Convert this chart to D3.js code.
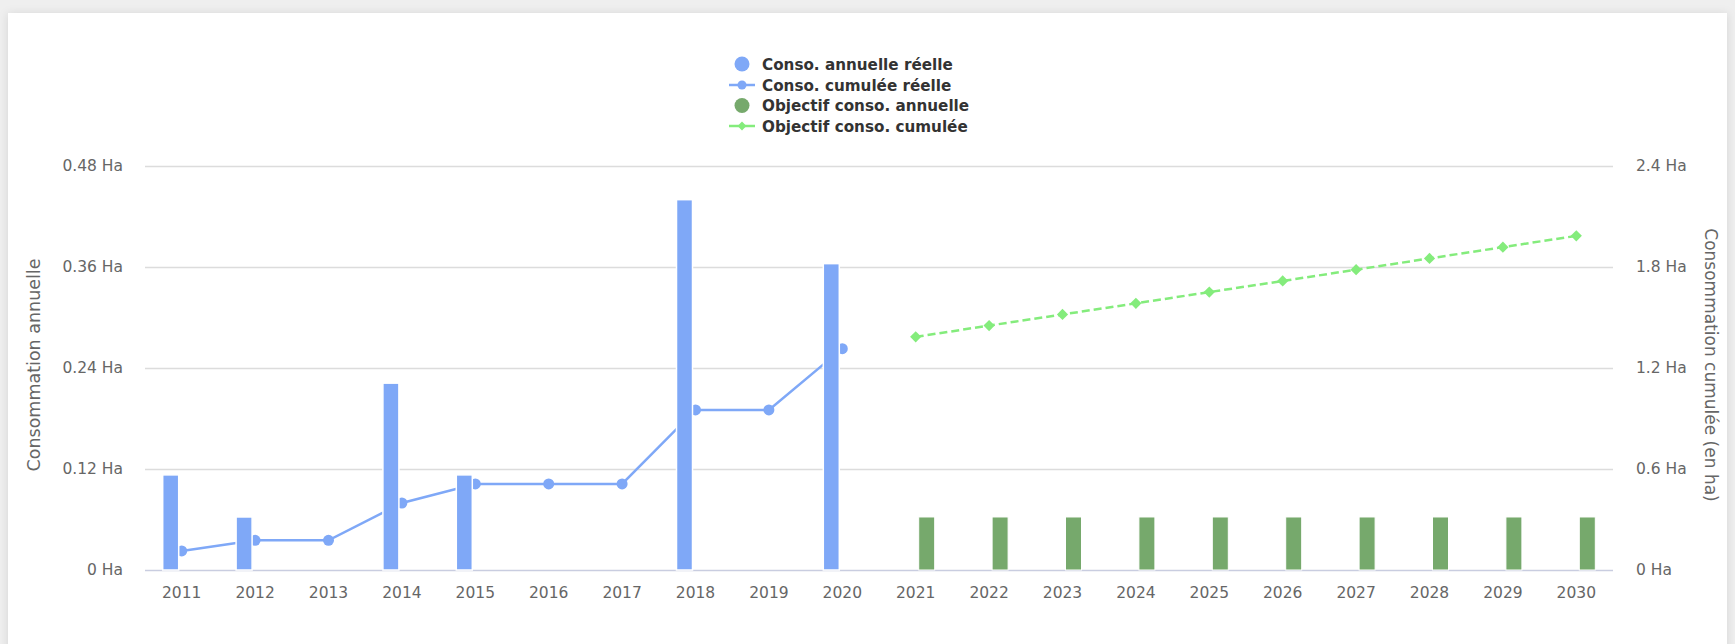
<!DOCTYPE html>
<html>
<head>
<meta charset="utf-8">
<script src="https://cdn.jsdelivr.net/npm/d3@7"></script>
<style>
  html, body { margin: 0; padding: 0; background: #efefef; }
  svg { display: block; }
  text { font-family: "DejaVu Sans", Verdana, sans-serif; }
</style>
</head>
<body>
<svg id="chart" width="1735" height="644"></svg>
<script>
// ---- data ----
const years = ["2011","2012","2013","2014","2015","2016","2017","2018","2019","2020",
               "2021","2022","2023","2024","2025","2026","2027","2028","2029","2030"];
const realYears = ["2011","2012","2013","2014","2015","2016","2017","2018","2019","2020"];
const objYears = ["2021","2022","2023","2024","2025","2026","2027","2028","2029","2030"];
const annualReal = [0.113, 0.063, 0, 0.222, 0.113, 0, 0, 0.44, 0, 0.364];
const cumulReal = [0.113, 0.176, 0.176, 0.398, 0.511, 0.511, 0.511, 0.951, 0.951, 1.315];
const annualObj = [0.063, 0.063, 0.063, 0.063, 0.063, 0.063, 0.063, 0.063, 0.063, 0.063];
const cumulObj = [1.385, 1.452, 1.518, 1.584, 1.651, 1.717, 1.784, 1.851, 1.918, 1.985];
const leftTicks = [0, 0.12, 0.24, 0.36, 0.48];
const rightTicks = [0, 0.6, 1.2, 1.8, 2.4];
const legendLabels = ["Conso. annuelle réelle", "Conso. cumulée réelle", "Objectif conso. annuelle", "Objectif conso. cumulée"];

// ---- styles ----
const C_BLUE = "#7fa8f7", C_GREEN_BAR = "#76a96c", C_GREEN_LINE = "#84ec7c";
const svg = d3.select("#chart");

// card with shadow
const defs = svg.append("defs");
const f = defs.append("filter").attr("id", "sh").attr("x", "-5%").attr("y", "-5%").attr("width", "110%").attr("height", "110%");
f.append("feDropShadow").attr("dx", 0).attr("dy", 1).attr("stdDeviation", 5).attr("flood-color", "#000").attr("flood-opacity", 0.12);
svg.append("rect").attr("x", 8).attr("y", 13).attr("width", 1719).attr("height", 640)
  .attr("fill", "#fff").attr("filter", "url(#sh)");

const L = 145, R = 1613, T = 166, B = 570;
const x = d3.scaleBand().domain(years).range([L, R]).padding(0);
const sub = d3.scaleBand().domain(["real", "obj"]).range([-22, 22]);
const yL = d3.scaleLinear().domain([0, 0.48]).range([B, T]);
const yR = d3.scaleLinear().domain([0, 2.4]).range([B, T]);
const cx = d => x(d) + x.bandwidth() / 2;
const barW = 16;

// grid
const g = svg.append("g");
g.selectAll("line.grid").data(leftTicks.slice(1)).enter().append("line")
  .attr("x1", L).attr("x2", R).attr("y1", d => Math.round(yL(d)) + 0.5).attr("y2", d => Math.round(yL(d)) + 0.5)
  .attr("stroke", "#dcdcdc").attr("stroke-width", 1.5);
g.append("line").attr("x1", L).attr("x2", R).attr("y1", B + 0.5).attr("y2", B + 0.5)
  .attr("stroke", "#c9cde0").attr("stroke-width", 1.5);

// axes labels via d3 axes
const axL = d3.axisLeft(yL).tickValues(leftTicks).tickSize(0).tickPadding(22)
  .tickFormat(d => d3.format("~g")(d) + " Ha");
const axR = d3.axisRight(yR).tickValues(rightTicks).tickSize(0).tickPadding(23)
  .tickFormat(d => d3.format("~g")(d) + " Ha");
const axB = d3.axisBottom(x).tickSize(0).tickPadding(17);

function styleAxis(sel) {
  sel.select(".domain").remove();
  sel.selectAll("text").attr("fill", "#666").style("font-size", "15.5px")
    .style("font-family", "'DejaVu Sans', Verdana, sans-serif");
}
svg.append("g").attr("transform", `translate(${L},0)`).call(axL).call(styleAxis);
svg.append("g").attr("transform", `translate(${R},0)`).call(axR).call(styleAxis);
svg.append("g").attr("transform", `translate(0,${B})`).call(axB).call(styleAxis);

// axis titles
svg.append("text").attr("transform", `translate(40,${(T + B) / 2 - 3}) rotate(-90)`)
  .attr("text-anchor", "middle").attr("fill", "#666").style("font-size", "17.5px")
  .text("Consommation annuelle");
svg.append("text").attr("transform", `translate(1705,${(T + B) / 2 - 3}) rotate(90)`)
  .attr("text-anchor", "middle").attr("fill", "#666").style("font-size", "17px")
  .text("Consommation cumulée (en ha)");

// cumulative real line (below bars)
const realCum = realYears.map((d, i) => ({ year: d, v: cumulReal[i] }));
svg.append("path").datum(realCum)
  .attr("d", d3.line().x(d => cx(d.year)).y(d => yR(d.v)))
  .attr("fill", "none").attr("stroke", C_BLUE).attr("stroke-width", 2.5);
svg.selectAll("circle.cr").data(realCum).enter().append("circle")
  .attr("cx", d => cx(d.year)).attr("cy", d => yR(d.v)).attr("r", 5.5).attr("fill", C_BLUE);

// bars
const realBars = realYears.map((d, i) => ({ year: d, v: annualReal[i] })).filter(d => d.v > 0);
svg.selectAll("rect.br").data(realBars).enter().append("rect")
  .attr("x", d => cx(d.year) + sub("real") + (sub.bandwidth() - barW) / 2)
  .attr("width", barW).attr("y", d => yL(d.v)).attr("height", d => B - yL(d.v))
  .attr("fill", C_BLUE).attr("stroke", "#fff").attr("stroke-width", 1.5);
const objBars = objYears.map((d, i) => ({ year: d, v: annualObj[i] }));
svg.selectAll("rect.bo").data(objBars).enter().append("rect")
  .attr("x", d => cx(d.year) + sub("obj") + (sub.bandwidth() - barW) / 2)
  .attr("width", barW).attr("y", d => yL(d.v)).attr("height", d => B - yL(d.v))
  .attr("fill", C_GREEN_BAR).attr("stroke", "#fff").attr("stroke-width", 1);

// objective cumulative line
const objCum = objYears.map((d, i) => ({ year: d, v: cumulObj[i] }));
svg.append("path").datum(objCum)
  .attr("d", d3.line().x(d => cx(d.year)).y(d => yR(d.v)))
  .attr("fill", "none").attr("stroke", C_GREEN_LINE).attr("stroke-width", 2.5).attr("stroke-dasharray", "8,4");
const diamond = d3.symbol().type(d3.symbolDiamond2).size(80);
svg.selectAll("path.co").data(objCum).enter().append("path")
  .attr("transform", d => `translate(${cx(d.year)},${yR(d.v)})`)
  .attr("d", diamond).attr("fill", C_GREEN_LINE);

// legend
const legY = [64, 85, 105.5, 126];
const lg = svg.append("g");
legendLabels.forEach((lab, i) => {
  const yy = legY[i];
  const col = i < 2 ? C_BLUE : (i === 2 ? C_GREEN_BAR : C_GREEN_LINE);
  if (i % 2 === 0) {
    lg.append("circle").attr("cx", 742).attr("cy", yy).attr("r", 7.5).attr("fill", col);
  } else {
    lg.append("line").attr("x1", 729).attr("x2", 755).attr("y1", yy).attr("y2", yy)
      .attr("stroke", col).attr("stroke-width", 2.5);
    if (i === 1) lg.append("circle").attr("cx", 742).attr("cy", yy).attr("r", 4.5).attr("fill", col);
    else lg.append("path").attr("transform", `translate(742,${yy})`).attr("d", d3.symbol().type(d3.symbolDiamond2).size(50)).attr("fill", col);
  }
  lg.append("text").attr("x", 762).attr("y", yy + 5.5).attr("fill", "#333")
    .style("font-size", "15.2px").style("font-weight", "bold").text(lab);
});
</script>
</body>
</html>
